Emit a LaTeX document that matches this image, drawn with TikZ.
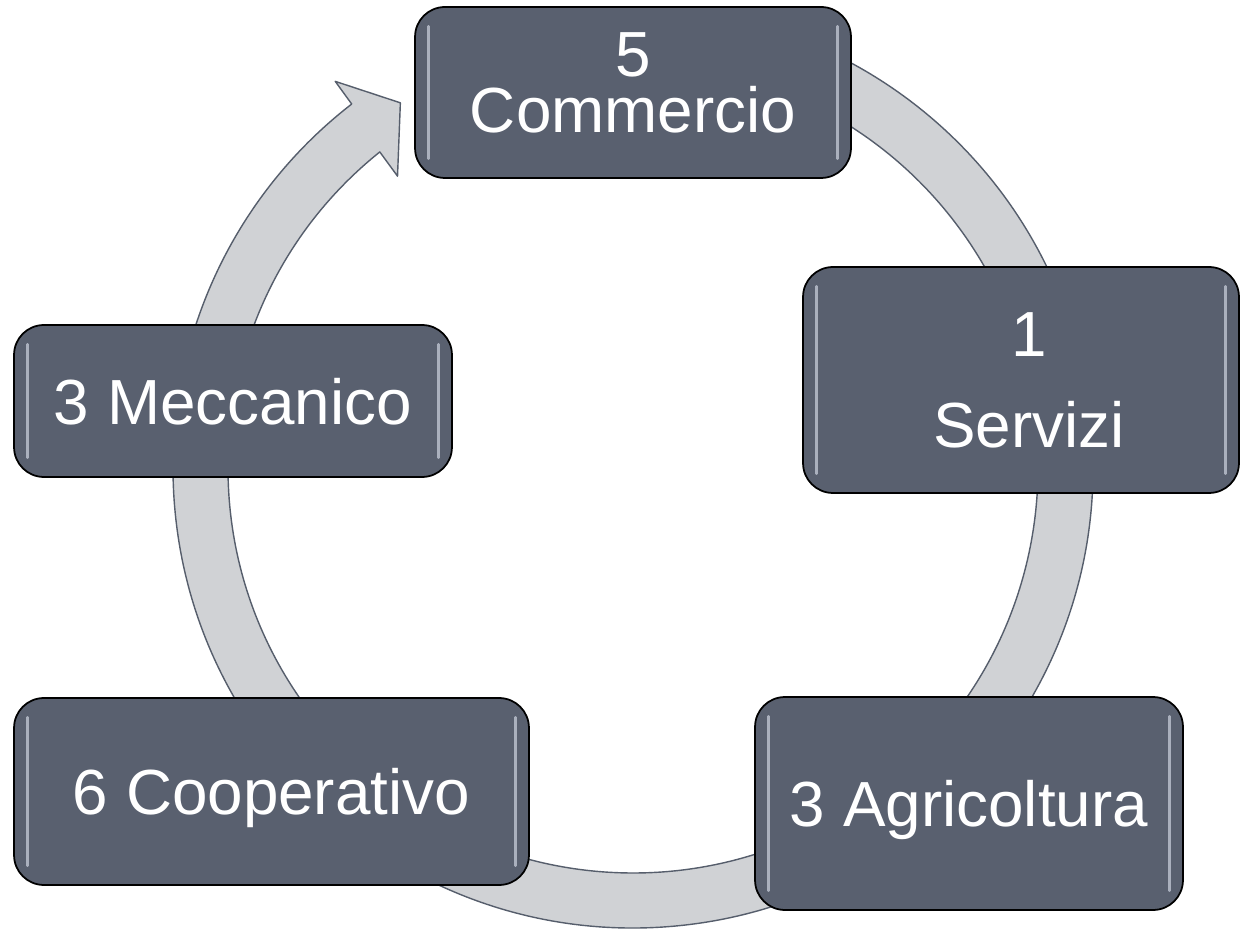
\documentclass[tikz,border=0pt]{standalone}
\usepackage{fontspec}
\setmainfont{Liberation Sans}
\definecolor{slate}{RGB}{89,96,111}
\definecolor{ringfill}{RGB}{208,210,213}
\definecolor{ringline}{RGB}{86,94,108}
\definecolor{gloss}{RGB}{198,204,216}
\tikzset{
  stage/.style={draw=black, line width=1pt, fill=slate, rounded corners=17pt, text=white,
    font=\fontsize{36.3}{31.7}\selectfont, align=center, text depth=0pt, inner sep=0pt,
    path picture={
      \draw[gloss, line width=1.5pt, line cap=round, opacity=0.75]
        ([xshift=7.5pt,yshift=-11pt]path picture bounding box.north west) -- ([xshift=7.5pt,yshift=11pt]path picture bounding box.south west);
      \draw[gloss, line width=1.5pt, line cap=round, opacity=0.75]
        ([xshift=-7.5pt,yshift=-11pt]path picture bounding box.north east) -- ([xshift=-7.5pt,yshift=11pt]path picture bounding box.south east);
    }},
  ring/.style={fill=ringfill, draw=ringline, line width=0.8pt, line join=round}
}
\begin{document}
\begin{tikzpicture}[x=0.02cm, y=0.02cm]
\useasboundingbox (0,0) rectangle (1240,930);
\coordinate (ctr) at (633,462);
% circular arrow behind the boxes
\draw[ring] ([shift={(95:460)}]ctr) arc[start angle=95, end angle=-232.3, radius=460]
  -- ([shift={(127.6:488)}]ctr) -- ([shift={(122.5:433)}]ctr)
  -- ([shift={(128.9:375)}]ctr) -- ([shift={(128.7:405)}]ctr)
  arc[start angle=-231.3, end angle=95, radius=405] -- cycle;
\node (comm) at (633,837.5) [stage, minimum width=8.72cm, minimum height=3.42cm, text depth=11.4pt] {5\\Commercio};
\node (serv) at (1021,550) [stage, minimum width=8.72cm, minimum height=4.52cm] {\hspace*{9pt}1\\[20.3pt]\hspace*{9pt}Servizi};
\node (agri) at (969,126.5) [stage, minimum width=8.56cm, minimum height=4.26cm] {3 Agricoltura};
\node (coop) at (271.5,138.5) [stage, minimum width=10.3cm, minimum height=3.74cm] {6 Cooperativo};
\node (mecc) at (233,529) [stage, minimum width=8.76cm, minimum height=3.04cm] {3 Meccanico};
\end{tikzpicture}
\end{document}
